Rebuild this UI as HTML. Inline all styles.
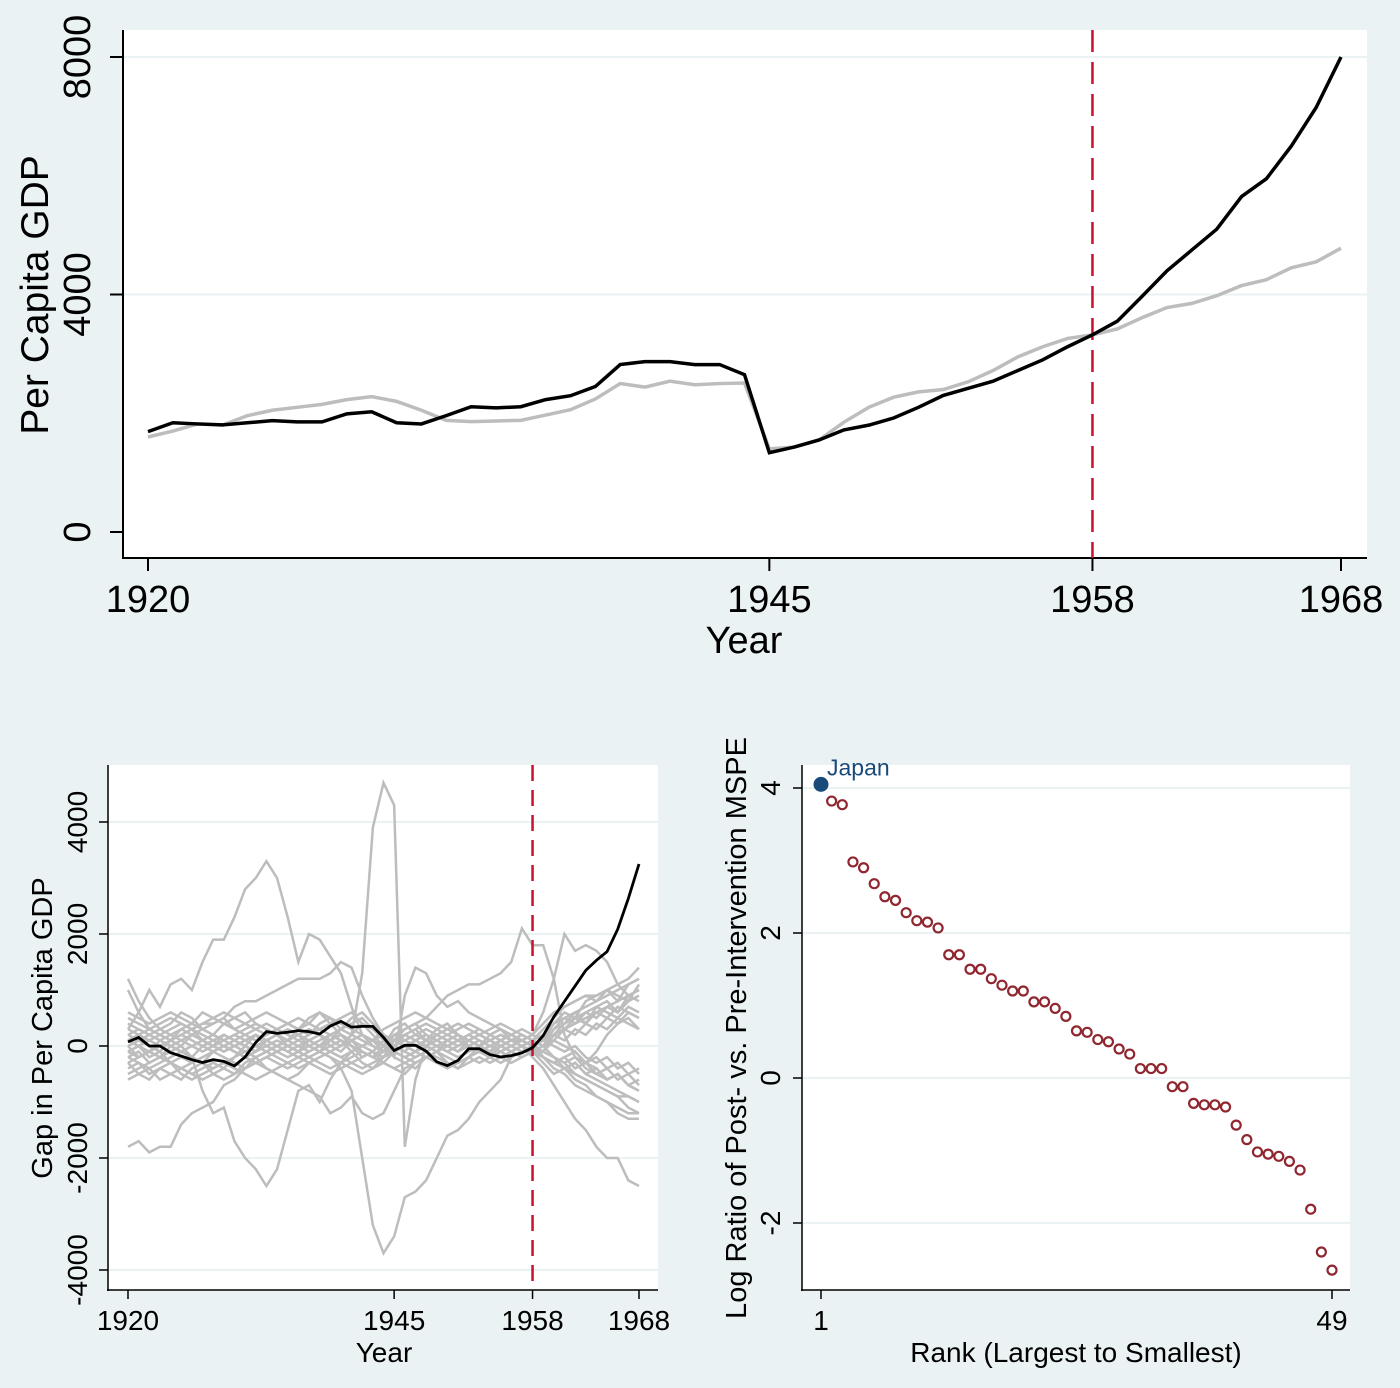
<!DOCTYPE html>
<html><head><meta charset="utf-8">
<style>
html,body{margin:0;padding:0;background:#eaf2f3;}
svg{display:block;font-family:"Liberation Sans",Arial,sans-serif;}
</style></head>
<body>
<svg id="chart" width="1400" height="1388" viewBox="0 0 1400 1388" xmlns="http://www.w3.org/2000/svg">
<rect x="0" y="0" width="1400" height="1388" fill="#eaf2f3"/>
</svg>
<script>
// ---------- Top panel data ----------
const topYears = [];
for (let y = 1920; y <= 1968; y++) topYears.push(y);
const japanGDP = [1690,1840,1820,1805,1840,1875,1855,1855,1990,2025,
 1840,1820,1960,2110,2090,2110,2230,2295,2450,2820,
 2870,2870,2820,2820,2650,1335,1430,1550,1720,1800,
 1920,2100,2300,2420,2540,2720,2900,3120,3320,3550,
 3970,4400,4750,5100,5650,5950,6500,7150,8000];
const synthGDP = [1600,1700,1820,1800,1960,2050,2100,2150,2230,2280,
 2200,2050,1880,1860,1870,1880,1970,2060,2240,2500,
 2440,2540,2480,2500,2510,1400,1430,1550,1850,2100,
 2270,2360,2400,2530,2720,2950,3120,3260,3320,3420,
 3610,3780,3850,3980,4150,4250,4450,4550,4780];
const topYTicks = [0,4000,8000];
const topXTicks = [1920,1945,1958,1968];

// ---------- Bottom-left data ----------
const japanGap = [74,153,0,0,-120,-180,-245,-295,-245,-275,
 -355,-196,61,257,227,245,275,257,215,355,
 441,337,350,350,153,-80,12,12,-92,-282,
 -350,-257,-49,-49,-153,-196,-172,-123,-30,184,
 521,797,1073,1350,1530,1685,2085,2635,3250];
// placebo gaps, in hundreds
const placeboP1 = [3,6,10,7,11,12,10,15,19,19, 23,28,30,33,30,23,15,20,19,16, 13,7,2,1,2,0,-1,1,2,1, 0,-1,1,2,1,0,-1,0,1,-2, -3,-2,-4,-3,-5,-6,-5,-7,-8];
const placeboP2 = [-1,0,-2,-1,-3,-2,-2,-8,-12,-11, -17,-20,-22,-25,-22,-15,-8,-7,-10,-6, -3,-1,0,1,-1,0,2,1,0,-1, 1,2,0,-1,-2,0,1,2,1,0, 3,5,6,4,7,8,6,9,10];
const placeboP3 = [-18,-17,-19,-18,-18,-14,-12,-11,-10,-7, -6,-4,-2,-1,0,1,2,0,-1,1, 2,0,-2,-1,1,-1,-2,-1,0,1, 2,1,0,-1,-2,-1,0,1,0,-1, -2,-3,-2,-4,-5,-4,-6,-5,-7];
const placeboA = [2,1,0,-1,1,2,3,1,0,-1, 0,1,2,1,0,-1,0,1,2,1, 0,2,13,39,47,43,-18,-6,0,2, 3,2,1,0,-1,1,2,3,2,1, 4,6,5,8,9,10,8,11,12];
const placeboB = [-2,-1,-3,-2,-1,0,-2,-3,-1,0, -1,-2,-3,-2,-1,0,-1,-2,-1,-2, -4,-8,-20,-32,-37,-34,-27,-26,-24,-20, -16,-15,-13,-10,-8,-6,-2,-1,0,-2, -4,-5,-7,-8,-9,-10,-11,-12,-12];
const placeboP5 = [1,2,0,-1,1,3,2,1,0,2, 1,0,-1,1,2,0,-1,1,2,0, -1,1,2,0,-1,1,0,-1,1,0, -1,0,1,2,1,0,-1,0,-2,-4, -7,-10,-13,-15,-18,-20,-20,-24,-25];
const placeboP6 = [0,-2,-1,1,0,-1,-2,0,1,2, 1,0,-1,1,2,1,0,-1,0,1, 2,1,0,-1,-2,1,3,4,5,7, 9,10,11,11,12,13,15,21,18,18, 12,2,-2,-3,-1,2,4,5,3];
const placeboP7 = [1,0,-1,-2,0,1,2,1,0,-1, 0,1,2,0,-1,-2,-1,0,1,2, 1,0,-1,-2,-1,0,1,2,1,0, -1,0,1,0,-1,0,1,1,2,6, 12,20,17,18,17,15,11,9,8];
const placeboP8 = [4,3,2,1,0,-1,0,1,2,1, 0,-1,-2,-1,0,1,2,1,0,-1, -2,-1,0,1,0,-2,9,14,13,9, 7,8,6,5,4,3,2,1,0,-1, 2,4,6,7,8,9,10,11,12];
const placeboP10 = [1,2,3,2,1,2,3,4,4,5, 7,8,8,9,10,11,12,12,12,13, 15,14,9,5,2,0,-1,-2,-1,0, 1,2,1,0,-1,-2,-1,0,-1,-2, -3,-4,-5,-6,-7,-8,-9,-9,-10];
const placeboP11 = [-3,-2,-1,-2,-3,-4,-3,-2,-1,-2, -3,-4,-3,-4,-5,-6,-7,-8,-9,-12, -11,-9,-12,-13,-12,-8,-4,-3,-2,-1, 0,1,0,-1,-2,-1,0,1,0,1, 3,4,5,6,5,7,8,9,10];
const placeboN1 = [10,6,3,2,1,0,2,3,4,5, 3,2,1,2,3,4,3,2,4,5, 3,2,1,0,-1,2,3,4,2,1, 0,1,2,3,2,1,0,1,2,4, 6,7,8,9,9,10,11,12,14];
const placeboN2 = [-4,-3,-5,-4,-3,-5,-6,-5,-4,-3, -4,-5,-6,-5,-4,-3,-2,-3,-4,-5, -4,-3,-2,-1,-3,-4,-5,-3,-2,-1, -2,-3,-2,-1,-2,-3,-2,-1,0,-1, -2,-3,-5,-6,-7,-8,-9,-11,-12];
const placeboN3 = [5,4,3,4,5,4,3,4,5,6, 5,4,3,2,3,4,5,4,3,2, 3,4,5,3,2,1,2,3,4,3, 2,3,4,3,2,3,2,1,0,1, 2,3,4,5,6,7,6,8,9];
const placeboN4 = [-1,-2,-1,0,-1,-2,-3,-2,-1,0, -1,-2,-1,0,1,0,-1,-2,-1,0, 1,0,-1,-2,-1,1,0,-1,-2,-1, 0,1,0,-1,0,1,0,-1,-1,-2, -3,-4,-3,-5,-6,-7,-8,-9,-10];
const placeboN5 = [2,3,2,1,2,3,4,3,2,1, 2,3,4,3,2,1,2,3,2,1, 0,1,2,1,0,2,1,0,1,2, 1,0,1,2,1,0,1,2,1,2, 4,5,4,6,7,6,5,7,6];
const placeboN6 = [-2,-3,-4,-3,-2,-1,-2,-3,-4,-3, -2,-1,0,-1,-2,-3,-4,-3,-2,-1, -2,-3,-4,-3,-2,-1,-2,-3,-2,-3, -4,-3,-2,-3,-2,-1,-2,-1,0,1, 0,-1,0,-2,-3,-2,-4,-3,-5];
const placeboN7 = [0,1,2,3,2,1,0,-1,0,1, 2,1,0,1,2,3,2,1,0,1, 3,5,6,4,2,0,1,2,3,2, 1,2,1,0,1,2,1,0,1,3, 5,7,8,9,8,10,9,8,11];
const placeboN8 = [-5,-4,-3,-2,-3,-4,-5,-4,-3,-4, -5,-4,-3,-2,-3,-4,-3,-2,-3,-4, -3,-2,-1,-2,-3,-4,-3,-2,-1,-2, -3,-4,-3,-2,-3,-2,-1,-2,-1,0, 1,0,-1,-3,-4,-6,-5,-7,-8];
const placeboN9 = [12,8,5,3,4,6,5,3,2,4, 5,6,4,3,2,1,3,5,6,4, 2,1,-1,-2,0,3,4,2,1,3, 4,2,1,0,2,3,1,0,-1,-3, -5,-4,-6,-7,-9,-10,-12,-13,-13];
const placeboN10 = [-3,-5,-6,-4,-5,-6,-4,-3,-5,-6, -5,-3,-2,-4,-5,-6,-5,-3,-2,-1, 0,2,4,3,1,-2,-3,-4,-2,-1, -3,-4,-2,0,-1,-2,-3,-2,-1,0, 2,3,5,4,6,5,7,6,5];
const placeboN11 = [6,5,4,5,6,5,4,6,5,4, 3,4,5,6,5,4,3,4,6,5, 4,3,2,1,3,4,5,6,5,4, 3,4,3,2,3,4,3,2,1,0, -2,-4,-3,-5,-4,-6,-5,-7,-6];
const placeboN12 = [-6,-5,-4,-6,-5,-4,-5,-6,-5,-4, -2,0,2,1,0,-1,-2,-1,0,2, 1,-1,-3,-4,-2,0,2,3,1,0, -1,-2,-1,0,1,2,1,0,-1,-1, 1,3,2,4,3,5,4,6,5];
const placeboN13 = [3,2,1,0,1,2,1,0,-1,0, 1,2,3,4,3,2,1,2,3,4, 5,6,4,2,0,-1,0,1,0,-1, 0,1,2,1,0,1,2,1,0,-2, -3,-2,-1,-3,-2,-4,-3,-5,-4];
const placeboN14 = [-1,0,1,2,3,4,3,2,1,0, -1,-2,-3,-2,-1,0,1,0,-1,-2, -3,-4,-5,-4,-3,-1,0,1,2,1, 0,-1,0,1,0,-1,0,1,0,1, 2,1,3,2,4,3,5,4,3];
const placeboSeries = [placeboP1,placeboP2,placeboP3,placeboA,placeboB,placeboP5,placeboP6,placeboP7,placeboP8,placeboP10,placeboP11,placeboN1,placeboN2,placeboN3,placeboN4,placeboN5,placeboN6,placeboN7,placeboN8,placeboN9,placeboN10,placeboN11,placeboN12,placeboN13,placeboN14];
const gapYTicks = [-4000,-2000,0,2000,4000];
const gapXTicks = [1920,1945,1958,1968];

// ---------- Bottom-right data ----------
const mspeRatios = [4.05,3.82,3.77,2.98,2.9,2.68,2.5,2.45,2.28,2.17,2.15,2.07,1.7,1.7,1.5,1.5,1.37,1.28,1.2,1.2,1.05,1.05,0.96,0.85,0.65,0.63,0.53,0.5,0.4,0.33,0.13,0.13,0.13,-0.12,-0.12,-0.35,-0.37,-0.37,-0.4,-0.65,-0.85,-1.02,-1.05,-1.08,-1.15,-1.27,-1.81,-2.4,-2.65];
const rankTicks = [1,49];
const mspeYTicks = [-2,0,2,4];

const NS = "http://www.w3.org/2000/svg";
const svg = document.getElementById('chart');
function mk(tag, attrs, parent, text) {
  const e = document.createElementNS(NS, tag);
  for (const k in attrs) e.setAttribute(k, attrs[k]);
  if (text !== undefined) e.textContent = text;
  (parent || svg).appendChild(e);
  return e;
}

// ===== TOP PANEL =====
const tx = yr => 148 + (yr - 1920) * (1341 - 148) / 48;
const ty = v => 532 - v * (532 - 57) / 8000;
let g = mk('g', {});


let r = mk('rect', {x:123, y:30, width:1244, height:528, fill:'#ffffff'}, g);


topYTicks.forEach(v => {
  if (v !== 0) {
    const l = mk('line', {x1:123, x2:1367, y1:ty(v), y2:ty(v), stroke:'#eaf2f3', 'stroke-width':2}, g);
    
    
  }
  const t = mk('line', {x1:110, x2:123, y1:ty(v), y2:ty(v), stroke:'#000', 'stroke-width':2}, g);
  
  
  const lb = mk('text', {x:0, y:0, transform:`translate(90,${ty(v)}) rotate(-90)`, 'text-anchor':'middle', 'font-size':38}, g, String(v));
  
  
});
topXTicks.forEach(v => {
  const t = mk('line', {x1:tx(v), x2:tx(v), y1:558, y2:571, stroke:'#000', 'stroke-width':2}, g);
  
  
  const lb = mk('text', {x:tx(v), y:612, 'text-anchor':'middle', 'font-size':38}, g, String(v));
  
  
});
let ax = mk('line', {x1:123, x2:123, y1:30, y2:559, stroke:'#000', 'stroke-width':2}, g);


ax = mk('line', {x1:122, x2:1367, y1:558, y2:558, stroke:'#000', 'stroke-width':2}, g);


let vl = mk('line', {x1:tx(1958), x2:tx(1958), y1:30, y2:558, stroke:'#c8102e', 'stroke-width':2.5, 'stroke-dasharray':'22,10'}, g);


let pl = mk('polyline', {points: topYears.map((y,i)=>tx(y)+','+ty(synthGDP[i])).join(' '), fill:'none', stroke:'#bdbdbd', 'stroke-width':3.5}, g);


pl = mk('polyline', {points: topYears.map((y,i)=>tx(y)+','+ty(japanGDP[i])).join(' '), fill:'none', stroke:'#000', 'stroke-width':3.5}, g);


let tt = mk('text', {x:744, y:653, 'text-anchor':'middle', 'font-size':38}, g, 'Year');


tt = mk('text', {x:0, y:0, transform:'translate(48,295) rotate(-90)', 'text-anchor':'middle', 'font-size':39}, g, 'Per Capita GDP');



// ===== BOTTOM-LEFT PANEL =====
const bx = yr => 128 + (yr - 1920) * (639 - 128) / 48;
const by = v => 1046 - v * (1046 - 822) / 4000;
g = mk('g', {});


r = mk('rect', {x:108, y:765, width:550, height:525, fill:'#ffffff'}, g);


gapYTicks.forEach(v => {
  const l = mk('line', {x1:108, x2:658, y1:by(v), y2:by(v), stroke:'#eaf2f3', 'stroke-width':2}, g);
  
  
  const t = mk('line', {x1:99, x2:108, y1:by(v), y2:by(v), stroke:'#000', 'stroke-width':1.5}, g);
  
  
  const lb = mk('text', {x:0, y:0, transform:`translate(87,${by(v)}) rotate(-90)`, 'text-anchor':'middle', 'font-size':28}, g, String(v));
  
  
});
gapXTicks.forEach(v => {
  const t = mk('line', {x1:bx(v), x2:bx(v), y1:1290, y2:1299, stroke:'#000', 'stroke-width':1.5}, g);
  
  
  const lb = mk('text', {x:bx(v), y:1330, 'text-anchor':'middle', 'font-size':28}, g, String(v));
  
  
});
placeboSeries.forEach(s => {
  const p = mk('polyline', {points: topYears.map((y,i)=>bx(y)+','+by(s[i]*100)).join(' '), fill:'none', stroke:'#bdbdbd', 'stroke-width':2.5}, g);
  
  
});
vl = mk('line', {x1:bx(1958), x2:bx(1958), y1:765, y2:1290, stroke:'#c8102e', 'stroke-width':2.5, 'stroke-dasharray':'16,9'}, g);


pl = mk('polyline', {points: topYears.map((y,i)=>bx(y)+','+by(japanGap[i])).join(' '), fill:'none', stroke:'#000', 'stroke-width':2.8}, g);


ax = mk('line', {x1:108, x2:108, y1:765, y2:1291, stroke:'#000', 'stroke-width':1.5}, g);


ax = mk('line', {x1:107, x2:658, y1:1290, y2:1290, stroke:'#000', 'stroke-width':1.5}, g);


tt = mk('text', {x:384, y:1362, 'text-anchor':'middle', 'font-size':28}, g, 'Year');


tt = mk('text', {x:0, y:0, transform:'translate(52,1028) rotate(-90)', 'text-anchor':'middle', 'font-size':29}, g, 'Gap in Per Capita GDP');



// ===== BOTTOM-RIGHT PANEL =====
const rx = k => 821 + (k - 1) * (1332 - 821) / 48;
const ry = v => 1078 - v * (1078 - 788) / 4;
g = mk('g', {});


r = mk('rect', {x:802, y:765, width:548, height:525, fill:'#ffffff'}, g);


mspeYTicks.forEach(v => {
  const l = mk('line', {x1:802, x2:1350, y1:ry(v), y2:ry(v), stroke:'#eaf2f3', 'stroke-width':2}, g);
  
  
  const t = mk('line', {x1:793, x2:802, y1:ry(v), y2:ry(v), stroke:'#000', 'stroke-width':1.5}, g);
  
  
  const lb = mk('text', {x:0, y:0, transform:`translate(780,${ry(v)}) rotate(-90)`, 'text-anchor':'middle', 'font-size':28}, g, String(v));
  
  
});
rankTicks.forEach(v => {
  const t = mk('line', {x1:rx(v), x2:rx(v), y1:1290, y2:1299, stroke:'#000', 'stroke-width':1.5}, g);
  
  
  const lb = mk('text', {x:rx(v), y:1330, 'text-anchor':'middle', 'font-size':28}, g, String(v));
  
  
});
mspeRatios.forEach((v, i) => {
  if (i === 0) {
    const c = mk('circle', {cx:rx(i+1), cy:ry(v), r:7.5, fill:'#1a4a7a'}, g);
    
    
  } else {
    const c = mk('circle', {cx:rx(i+1), cy:ry(v), r:4.5, fill:'none', stroke:'#90262f', 'stroke-width':2.2}, g);
    
    
  }
});
let jl = mk('text', {x:rx(1)+6, y:ry(mspeRatios[0])-9, 'font-size':23, fill:'#1a4a7a'}, g, 'Japan');


ax = mk('line', {x1:802, x2:802, y1:765, y2:1291, stroke:'#000', 'stroke-width':1.5}, g);


ax = mk('line', {x1:801, x2:1350, y1:1290, y2:1290, stroke:'#000', 'stroke-width':1.5}, g);


tt = mk('text', {x:1076, y:1362, 'text-anchor':'middle', 'font-size':28}, g, 'Rank (Largest to Smallest)');


tt = mk('text', {x:0, y:0, transform:'translate(746,1028) rotate(-90)', 'text-anchor':'middle', 'font-size':29}, g, 'Log Ratio of Post- vs. Pre-Intervention MSPE');


</script>
</body></html>
